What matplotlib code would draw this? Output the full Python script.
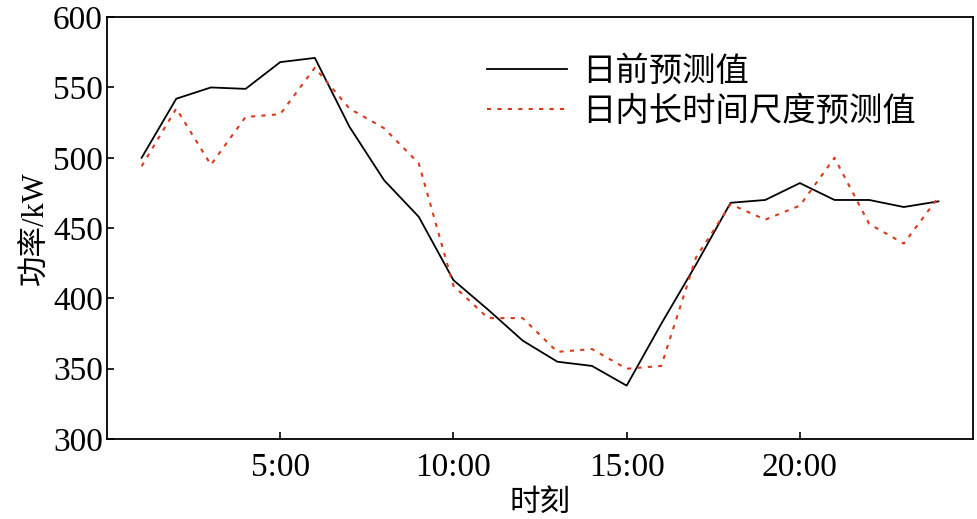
import matplotlib
matplotlib.use("Agg")
import matplotlib.pyplot as plt

plt.rcParams['font.family'] = ['Liberation Serif', 'Noto Sans CJK SC']

# data
hours = list(range(1, 25))
day_ahead = [500, 542, 550, 549, 568, 571, 522, 484, 458, 413, 392, 370,
             355, 352, 338, 382, 424, 468, 470, 482, 470, 470, 465, 469]
intraday = [494, 535, 495, 529, 531, 564, 535, 521, 496, 409, 386, 386,
            362, 364, 350, 352, 429, 467, 456, 466, 500, 453, 439, 472]
tick_pos = [5, 10, 15, 20]
tick_lbl = ['5:00', '10:00', '15:00', '20:00']

fig = plt.figure(figsize=(9.77, 5.19), dpi=100)
ax = fig.add_axes([0.1095, 0.154, 0.8865, 0.813])

ax.plot(hours, day_ahead, color='black', linewidth=1.3, label='日前预测值')
ax.plot(hours, intraday, color='#D93A1A', linewidth=1.5, linestyle=(0, (2, 3)),
        label='日内长时间尺度预测值')

ax.set_xlim(0, 25)
ax.set_ylim(300, 600)
ax.set_xticks(tick_pos)
ax.set_xticklabels(tick_lbl)
ax.set_yticks(range(300, 601, 50))
ax.tick_params(direction='in', length=5, width=1.2, labelsize=24)
ax.tick_params(axis='x', pad=10)
ax.tick_params(axis='y', pad=3)
for s in ax.spines.values():
    s.set_linewidth(1.3)

ax.set_xlabel('时刻', fontsize=22, labelpad=4)
ax.set_ylabel('功率/kW', fontsize=22, labelpad=2)

ax.legend(loc='upper left', bbox_to_anchor=(0.42, 0.947), frameon=False,
          fontsize=24, handlelength=2.4, handletextpad=0.45, labelspacing=0.25,
          borderpad=0)

fig.savefig('out.png', dpi=100)
